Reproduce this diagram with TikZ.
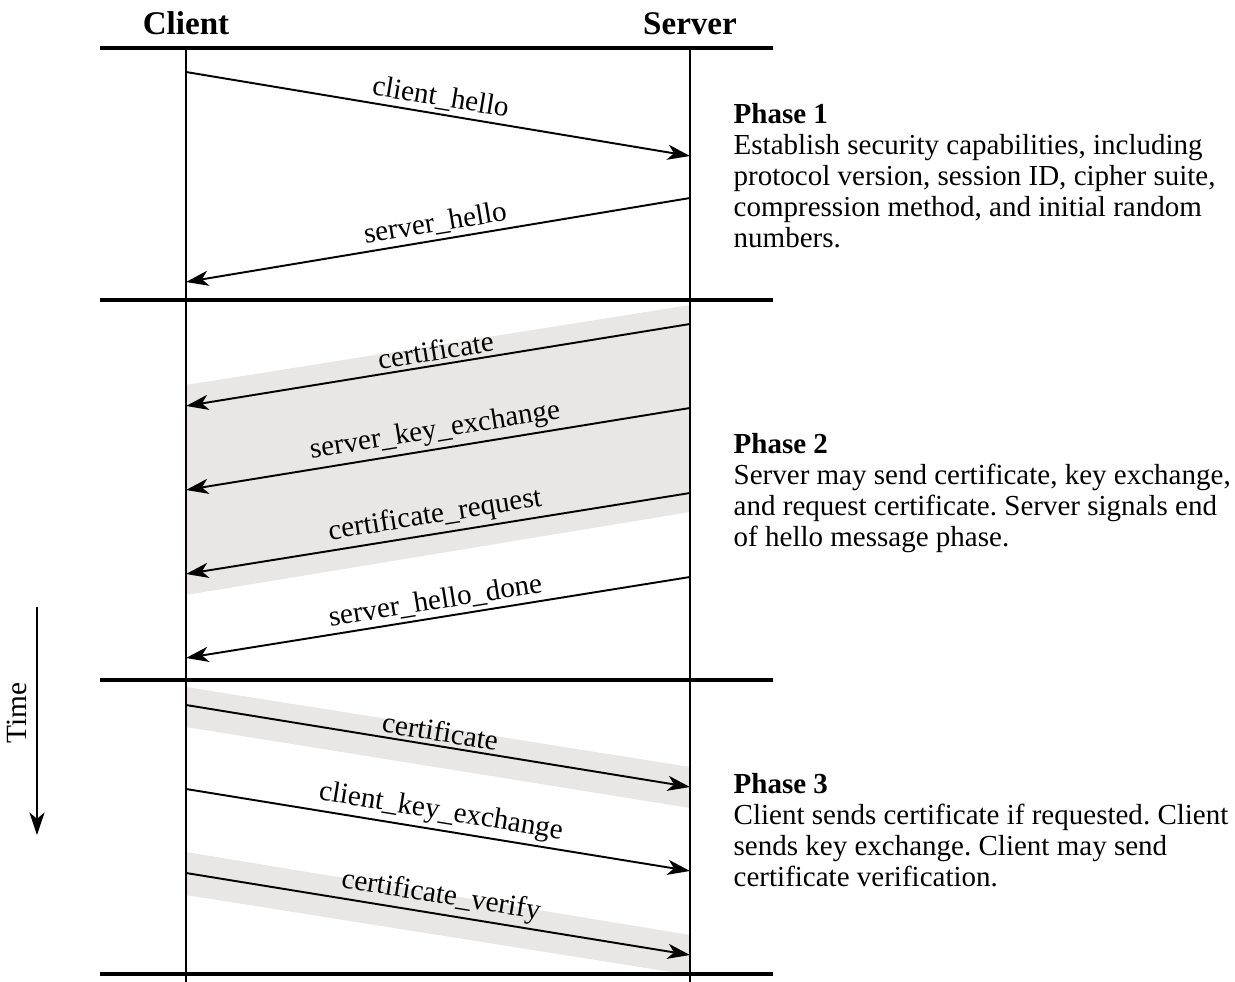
\documentclass[tikz,border=0pt]{standalone}
\usepackage{fontspec}
\setmainfont{Liberation Serif}
\usetikzlibrary{arrows.meta}
\definecolor{bandgray}{RGB}{232,231,229}
\frenchspacing
\begin{document}
\begin{tikzpicture}[x=0.01cm,y=-0.01cm,
  rule/.style={line width=1pt},
  lifeline/.style={line width=0.6pt},
  msg/.style={line width=0.55pt,-{Stealth[length=6.4pt,width=4.3pt,inset=1.8pt]}},
  lbl/.style={font=\fontsize{8.3}{8.8}\selectfont, sloped, above, inner sep=1pt, midway},
  head/.style={font=\fontsize{9.4}{10}\selectfont\bfseries, anchor=base, inner sep=0pt},
  phase/.style={font=\fontsize{8.25}{8.8}\selectfont, align=left, anchor=north west, inner sep=0pt},
  band/.style={fill=bandgray}]
\useasboundingbox (0,0) rectangle (1235,982);

% shaded groups of optional messages
\fill[band] (186,385) -- (690,305) -- (690,512) -- (186,595) -- cycle;
\fill[band] (186,687) -- (690,767) -- (690,808) -- (186,727) -- cycle;
\fill[band] (186,852) -- (690,935) -- (690,975) -- (186,895) -- cycle;

% column headings
\node[head] (client) at (186,35) {Client};
\node[head] (server) at (690,35) {Server};

% lifelines
\coordinate (ctop) at (186,48); \coordinate (cbot) at (186,982);
\coordinate (stop) at (690,48); \coordinate (sbot) at (690,982);
\draw[lifeline] (ctop) -- (cbot);
\draw[lifeline] (stop) -- (sbot);

% phase separators
\draw[rule] (100,48) -- (773,48);
\draw[rule] (100,300) -- (773,300);
\draw[rule] (100,680) -- (773,680);
\draw[rule] (100,974) -- (773,974);

% phase 1
\coordinate (c1) at (186,72);  \coordinate (s1) at (690,156);
\coordinate (s2) at (690,198); \coordinate (c2) at (186,282);
\draw[msg] (c1) -- node[lbl] {client\_hello} (s1);
\draw[msg] (s2) -- node[lbl] {server\_hello} (c2);

% phase 2
\coordinate (s3) at (690,324); \coordinate (c3) at (186,406);
\coordinate (s4) at (690,408); \coordinate (c4) at (186,490);
\coordinate (s5) at (690,493); \coordinate (c5) at (186,574);
\coordinate (s6) at (690,577); \coordinate (c6) at (186,658);
\draw[msg] (s3) -- node[lbl] {certificate} (c3);
\draw[msg] (s4) -- node[lbl] {server\_key\_exchange} (c4);
\draw[msg] (s5) -- node[lbl] {certificate\_request} (c5);
\draw[msg] (s6) -- node[lbl] {server\_hello\_done} (c6);

% phase 3
\coordinate (c7) at (186,705); \coordinate (s7) at (690,787);
\coordinate (c8) at (186,789); \coordinate (s8) at (690,871);
\coordinate (c9) at (186,873); \coordinate (s9) at (690,955);
\draw[msg] (c7) -- node[lbl] {certificate} (s7);
\draw[msg] (c8) -- node[lbl] {client\_key\_exchange} (s8);
\draw[msg] (c9) -- node[lbl] {certificate\_verify} (s9);

% phase descriptions
\node[phase] (p1) at (733,103) {\textbf{Phase 1}\\
  Establish security capabilities, including\\
  protocol version, session ID, cipher suite,\\
  compression method, and initial random\\
  numbers.};
\node[phase] (p2) at (733,433) {\textbf{Phase 2}\\
  Server may send certificate, key exchange,\\
  and request certificate. Server signals end\\
  of hello message phase.};
\node[phase] (p3) at (733,773) {\textbf{Phase 3}\\
  Client sends certificate if requested. Client\\
  sends key exchange. Client may send\\
  certificate verification.};

% time axis
\coordinate (ttop) at (37,607); \coordinate (tbot) at (37,835);
\draw[msg] (ttop) -- (tbot);
\node[rotate=90, font=\fontsize{8.35}{8.8}\selectfont, inner sep=0pt] (time) at (17,713) {Time};
\end{tikzpicture}
\end{document}
